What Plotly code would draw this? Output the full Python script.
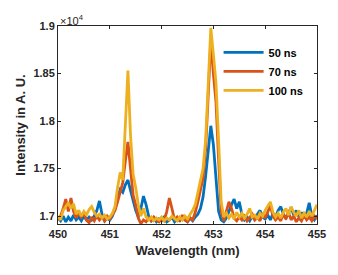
import plotly.graph_objects as go

wavelength = [
    450.00, 450.05, 450.10, 450.15, 450.20, 450.25, 450.30, 450.35, 450.40, 450.45,
    450.50, 450.55, 450.60, 450.65, 450.70, 450.75, 450.80, 450.85, 450.90, 450.95,
    451.00, 451.05, 451.10, 451.15, 451.20, 451.25, 451.30, 451.35, 451.40, 451.45,
    451.50, 451.55, 451.60, 451.65, 451.70, 451.75, 451.80, 451.85, 451.90, 451.95,
    452.00, 452.05, 452.10, 452.15, 452.20, 452.25, 452.30, 452.35, 452.40, 452.45,
    452.50, 452.55, 452.60, 452.65, 452.70, 452.75, 452.80, 452.85, 452.90, 452.95,
    453.00, 453.05, 453.10, 453.15, 453.20, 453.25, 453.30, 453.35, 453.40, 453.45,
    453.50, 453.55, 453.60, 453.65, 453.70, 453.75, 453.80, 453.85, 453.90, 453.95,
    454.00, 454.05, 454.10, 454.15, 454.20, 454.25, 454.30, 454.35, 454.40, 454.45,
    454.50, 454.55, 454.60, 454.65, 454.70, 454.75, 454.80, 454.85, 454.90, 454.95,
    455.00,
]

intensity_50ns = [
    16980, 16950, 17000, 16940, 16990, 16950, 17010, 16960, 16990, 16950,
    17000, 16960, 16990, 16960, 17000, 17060, 17160, 17020, 16950, 16980,
    16960, 17000, 17080, 17200, 17280, 17250, 17330, 17380, 17270, 17150,
    17060, 16990, 17080, 17210, 17120, 17000, 16950, 16980, 16940, 16970,
    16950, 16990, 16940, 16960, 16990, 16940, 16970, 16950, 16990, 16960,
    16940, 16980, 16950, 16990, 17020, 17080, 17200, 17420, 17700, 17950,
    17750, 17350, 17050, 16960, 16940, 16980, 17060, 17120, 17180, 17080,
    17150, 17020, 16960, 16990, 16950, 17000, 16960, 17020, 17060, 16990,
    16970, 17010, 16960, 17030, 16990, 17060, 17100, 17020, 16980, 17040,
    17090, 17010, 17060, 16990, 17040, 16980, 17030, 17140, 17000, 16960,
    17010,
]

intensity_70ns = [
    16960, 17000, 17080, 17180, 17050, 17190, 17050, 16980, 17040, 16990,
    17030, 16960, 16930, 16990, 16950, 17000, 16960, 16990, 16950, 17000,
    16970, 17010, 17060, 17150, 17260, 17350, 17580, 17780, 17500, 17220,
    17120, 16980, 16920, 16960, 16940, 16980, 16950, 16990, 16960, 16940,
    16970, 16950, 17050, 17190, 17080, 16960, 16990, 16950, 17010, 16960,
    16940, 16980, 16960, 17040, 17150, 17280, 17400, 17700, 18250, 18850,
    18500, 18200, 17600, 17050, 16950, 17060, 17150, 17080, 16980, 16950,
    16990, 16960, 17000, 16950, 16980, 17020, 16960, 16990, 16950, 17030,
    16980, 17040, 17110, 17000, 16960, 16990, 16950, 17020, 16970, 17040,
    16960, 17000, 16940, 16980, 16950, 17010, 16960, 16990, 16950, 17000,
    16970,
]

intensity_100ns = [
    17000, 16960, 17060, 17100, 17140, 17080, 17130, 17020, 17060, 17000,
    17050, 17010, 17070, 17100, 17040, 17000, 17020, 16980, 17010, 16970,
    16990, 17030, 17100, 17300, 17460, 17380, 17950, 18530, 17850, 17440,
    17300, 17120, 17000, 17080, 16990, 16960, 16990, 16950, 16980, 16960,
    16990, 16950, 16980, 16960, 17000, 16970, 16950, 16990, 16960, 17000,
    16970, 17020, 17060, 17120, 17250, 17350, 17500, 17800, 18400, 18980,
    18700, 18400, 17800, 17150, 16990, 17030, 16980, 17020, 16970, 17040,
    16990, 17030, 16980, 17020, 17080, 16990, 17010, 16970, 17030, 17000,
    17060, 17100, 17150, 17040, 16990, 17030, 16980, 17040, 17080, 17010,
    17100, 17040, 17000, 17060, 16980, 17030, 16990, 17050, 17000, 17060,
    17120,
]

series_names = ["50 ns", "70 ns", "100 ns"]
series_values = [intensity_50ns, intensity_70ns, intensity_100ns]
series_colors = ["#0072BD", "#D95319", "#EDB120"]

x_ticks = [450, 451, 452, 453, 454, 455]
y_ticks = [17000, 17500, 18000, 18500, 19000]
y_tick_labels = ["1.7", "1.75", "1.8", "1.85", "1.9"]

FONT = "Liberation Sans, Arial, sans-serif"

fig = go.Figure()
for name, vals, col in zip(series_names, series_values, series_colors):
    fig.add_trace(go.Scatter(x=wavelength, y=vals, mode="lines", name=name,
                             line=dict(color=col, width=2.8)))

axis_common = dict(showline=True, linecolor="#262626", linewidth=1, mirror="allticks",
                   ticks="inside", ticklen=3, tickcolor="#262626", showgrid=False,
                   zeroline=False,
                   tickfont=dict(family=FONT, size=11, color="#262626", weight="bold"))

fig.update_layout(
    width=330, height=267,
    margin=dict(l=45, r=15, t=13, b=51),
    paper_bgcolor="white", plot_bgcolor="white",
    font=dict(family=FONT, color="#262626"),
    xaxis=dict(range=[450, 455], tickvals=x_ticks, ticktext=[str(t) for t in x_ticks],
               title=dict(text="Wavelength (nm)", standoff=6,
                          font=dict(family=FONT, size=13, weight="bold")),
               **axis_common),
    yaxis=dict(range=[16917, 19000], tickvals=y_ticks, ticktext=y_tick_labels,
               title=dict(text="Intensity in A. U.", standoff=4,
                          font=dict(family=FONT, size=13, weight="bold")),
               **axis_common),
    legend=dict(x=0.62, y=0.94, xanchor="left", yanchor="top",
                bgcolor="rgba(0,0,0,0)", borderwidth=0,
                font=dict(family=FONT, size=11, weight="bold", color="#000000"),
                itemwidth=40, tracegroupgap=0),
    showlegend=True,
    annotations=[dict(text="×10<sup>4</sup>", xref="paper", yref="paper", x=0, y=1,
                      xanchor="left", yanchor="bottom", showarrow=False, yshift=-3,
                      font=dict(family=FONT, size=11, color="#262626"))],
)

fig.write_html("out.html")
